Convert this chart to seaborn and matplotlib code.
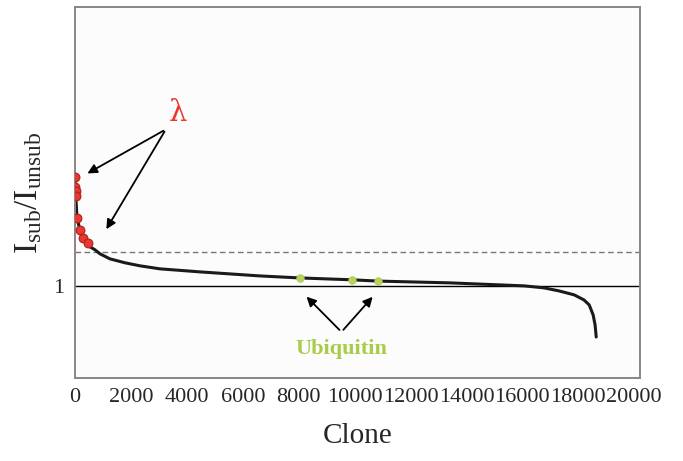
import numpy as np
import pandas as pd
import matplotlib
matplotlib.use("Agg")
import matplotlib.pyplot as plt
import seaborn as sns

# sorted ratio curve (clone index, ratio)
clone = [0, 10, 20, 30, 70, 180, 290, 460, 535, 714, 893, 1250, 1785, 2320,
         3035, 4460, 6600, 8030, 9920, 10820, 13390, 15170, 16070, 16780,
         17310, 17850, 18200, 18390, 18530, 18600, 18640]
ratio = [1.86, 1.78, 1.75, 1.71, 1.54, 1.44, 1.38, 1.34, 1.31, 1.286, 1.254,
         1.214, 1.183, 1.159, 1.135, 1.111, 1.079, 1.063, 1.048, 1.038,
         1.024, 1.008, 1.0, 0.984, 0.96, 0.929, 0.889, 0.849, 0.77, 0.69,
         0.595]

# lambda clones (red)
lam_x = [0, 10, 20, 30, 70, 180, 290, 460]
lam_y = [1.86, 1.78, 1.75, 1.71, 1.54, 1.44, 1.38, 1.34]

# ubiquitin clones (green)
ubq_x = [8030, 9920, 10820]
ubq_y = [1.063, 1.048, 1.038]

threshold = 1.27
xticks = [0, 2000, 4000, 6000, 8000, 10000, 12000, 14000, 16000, 18000, 20000]

sns.set_style("white")
plt.rcParams["font.family"] = ["Liberation Serif", "DejaVu Serif"]
plt.rcParams["mathtext.fontset"] = "custom"
plt.rcParams["mathtext.rm"] = "Liberation Serif"

fig = plt.figure(figsize=(6.83, 4.61), dpi=100)
ax = fig.add_axes([0.1098, 0.18, 0.827, 0.805])
ax.set_facecolor("#fcfcfc")

df = pd.DataFrame({"clone": clone, "ratio": ratio})
ax.axhline(1, color="black", lw=1.0, zorder=1)
ax.axhline(threshold, color="#777777", lw=1.0, ls=(0, (4, 2.5)), zorder=1)
sns.lineplot(data=df, x="clone", y="ratio", color="#1a1a1a", lw=2.2, ax=ax,
             zorder=2)
sns.scatterplot(x=lam_x, y=lam_y, color="#e8392c", edgecolor="#b02020",
                s=40, linewidth=0.8, ax=ax, zorder=3)
sns.scatterplot(x=ubq_x, y=ubq_y, color="#b6d35a", edgecolor="#a8c84a",
                s=30, linewidth=0.5, ax=ax, zorder=3)

ax.set_xlim(0, 20200)
ax.set_ylim(0.27, 3.21)
ax.set_xticks(xticks)
ax.set_xticklabels([str(t) for t in xticks], fontsize=16)
ax.set_yticks([1])
ax.set_yticklabels(["1"], fontsize=16)
ax.set_yticks([0.36, 2.0, 2.55, 2.97], minor=True)
ax.tick_params(axis="x", direction="out", length=3, color="#bbbbbb", pad=4)
ax.tick_params(axis="y", which="both", direction="in", length=3,
               color="#888888", pad=8)
for s in ax.spines.values():
    s.set_color("#8a8580")
    s.set_linewidth(1.4)

ax.set_xlabel("Clone", fontsize=21, labelpad=12)
ax.set_ylabel(r"$\mathrm{I_{sub}/I_{unsub}}$", fontsize=24, labelpad=6)

# lambda annotation
ax.text(3680, 2.37, "λ", color="#e8392c", fontsize=21, ha="center",
        va="center", family=["DejaVu Serif"])
for end in [(357, 1.88), (1070, 1.43)]:
    ax.annotate("", xy=end, xytext=(3250, 2.24),
                arrowprops=dict(arrowstyle="-|>", color="black", lw=1.3,
                                mutation_scale=14))

# ubiquitin annotation
ax.text(9530, 0.50, "Ubiquitin", color="#a8cc48", fontsize=16,
        fontweight="bold", ha="center", va="center")
for end in [(8210, 0.93), (10710, 0.93)]:
    ax.annotate("", xy=end, xytext=(9530, 0.635),
                arrowprops=dict(arrowstyle="-|>", color="black", lw=1.3,
                                mutation_scale=14))

fig.savefig("out.png", dpi=100, facecolor="white")
